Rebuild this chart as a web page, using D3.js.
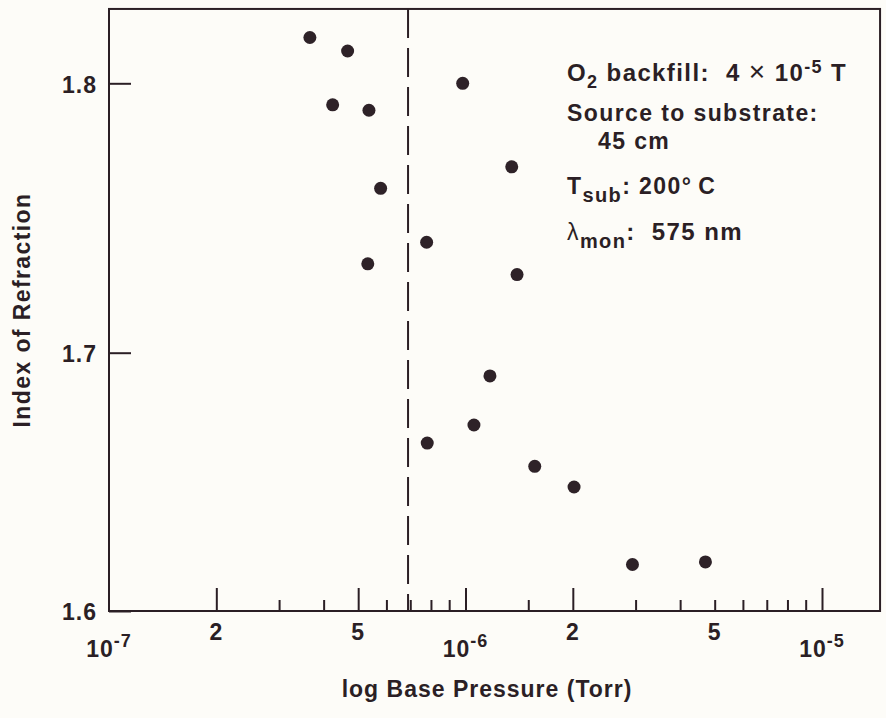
<!DOCTYPE html>
<html>
<head>
<meta charset="utf-8">
<script src="https://cdn.jsdelivr.net/npm/d3@7"></script>
<style>
body { margin: 0; background: #fdfcf8; }
svg { display: block; font-family: "Liberation Sans", Arial, sans-serif; font-weight: bold; }
</style>
</head>
<body>
<div id="chart"></div>
<script>
// data (pressure in Torr, refractive index)
let pressure = [3.66e-7, 4.67e-7, 4.24e-7, 5.36e-7, 9.82e-7, 5.78e-7, 1.348e-6, 7.78e-7, 5.32e-7,
    1.395e-6, 1.171e-6, 1.056e-6, 7.81e-7, 1.564e-6, 2.016e-6, 2.94e-6, 4.71e-6];
let refIndex = [1.817, 1.812, 1.792, 1.790, 1.800, 1.761, 1.769, 1.741, 1.733,
    1.729, 1.691, 1.672, 1.665, 1.656, 1.648, 1.618, 1.619];

let majorTicks = [2e-7, 5e-7, 1e-6, 2e-6, 1e-5];
let minorTicks = [3e-7, 4e-7, 6e-7, 7e-7, 8e-7, 9e-7, 1.5e-6, 3e-6, 4e-6, 5e-6, 6e-6, 7e-6, 8e-6, 9e-6];
let multValues = [2e-7, 5e-7, 2e-6, 5e-6];
let multText = ["2", "5", "2", "5"];
let decadeValues = [1e-7, 1e-6, 1e-5];
let decadeExp = ["-7", "-6", "-5"];
let yTicks = [1.6, 1.7, 1.8];
let cutoff = 6.9e-7;   // dashed vertical line
let xMax = 1.455e-5;   // right end of frame
let yMax = 1.8276;     // top end of frame

let canvasWidth = 886;
let canvasHeight = 718;
let ink = "#2b1f25";
let sp = "\u00a0";

let svg = d3.select("div#chart")
    .append("svg")
    .attr("width", canvasWidth)
    .attr("height", canvasHeight)
    .style("letter-spacing", "1px");

svg.append("rect")
    .attr("width", canvasWidth)
    .attr("height", canvasHeight)
    .attr("fill", "#fdfcf8");

let xScale = d3.scaleLog().domain([1e-7, 1e-5]).range([109, 822]);
// the scanned axis is slightly uneven, so keep the three printed ticks exact
let yScale = d3.scaleLinear().domain(yTicks).range([611, 352.7, 83.3]);

let x0 = xScale(1e-7), x1 = xScale(xMax);
let y0 = yScale(1.6), y1 = yScale(yMax);

// x ticks (pointing up into the plot)
svg.append("g")
    .attr("transform", "translate(0," + y0 + ")")
    .call(d3.axisBottom(xScale).tickValues(majorTicks).tickSize(-23).tickFormat(""))
    .call(g => g.select(".domain").remove());
svg.append("g")
    .attr("transform", "translate(0," + y0 + ")")
    .call(d3.axisBottom(xScale).tickValues(minorTicks).tickSize(-11).tickFormat(""))
    .call(g => g.select(".domain").remove());

// y ticks
svg.append("g")
    .attr("transform", "translate(" + x0 + ",0)")
    .call(d3.axisLeft(yScale).tickValues(yTicks).tickSize(-22).tickPadding(12)
        .tickFormat(d3.format(".1f")))
    .call(g => g.select(".domain").remove())
    .call(g => g.selectAll("text")
        .attr("font-size", 23)
        .attr("font-family", null)
        .attr("fill", ink)
        .attr("dy", "0.38em"));

svg.selectAll(".tick line")
    .attr("stroke", ink)
    .attr("stroke-width", 2);

// frame
svg.append("rect")
    .attr("x", x0)
    .attr("y", y1)
    .attr("width", x1 - x0)
    .attr("height", y0 - y1)
    .attr("fill", "none")
    .attr("stroke", ink)
    .attr("stroke-width", 2);

// x tick labels
svg.selectAll(".mult")
    .data(multValues)
    .join("text")
    .attr("x", d => xScale(d))
    .attr("y", 640)
    .attr("text-anchor", "middle")
    .attr("font-size", 23)
    .attr("fill", ink)
    .text((d, i) => multText[i]);

let dec = svg.selectAll(".dec")
    .data(decadeValues)
    .join("text")
    .attr("x", d => xScale(d))
    .attr("y", 657)
    .attr("text-anchor", "middle")
    .attr("font-size", 23)
    .attr("fill", ink);
dec.append("tspan").text("10");
dec.append("tspan")
    .attr("dy", -10)
    .attr("font-size", 18)
    .text((d, i) => decadeExp[i]);

// dashed cutoff line
svg.append("line")
    .attr("x1", xScale(cutoff))
    .attr("x2", xScale(cutoff))
    .attr("y1", y1)
    .attr("y2", y0)
    .attr("stroke", ink)
    .attr("stroke-width", 2)
    .attr("stroke-dasharray", "29,10");

// points
svg.selectAll("circle")
    .data(pressure)
    .join("circle")
    .attr("cx", d => xScale(d))
    .attr("cy", (d, i) => yScale(refIndex[i]))
    .attr("r", 6.5)
    .attr("fill", "#2e2228");

// axis titles
svg.append("text")
    .attr("x", 487)
    .attr("y", 697)
    .attr("text-anchor", "middle")
    .attr("font-size", 23)
    .attr("fill", ink)
    .text("log Base Pressure (Torr)");

svg.append("text")
    .attr("transform", "translate(30,310) rotate(-90)")
    .attr("text-anchor", "middle")
    .attr("font-size", 23)
    .attr("fill", ink)
    .style("letter-spacing", "1.4px")
    .text("Index of Refraction");

// annotation block
let note = svg.append("g")
    .attr("font-size", 23)
    .attr("fill", ink)
    .style("letter-spacing", "1.4px");

let l1 = note.append("text").attr("x", 567).attr("y", 81).attr("font-size", 24);
l1.append("tspan").text("O");
l1.append("tspan").attr("dy", 7).attr("font-size", 18).text("2");
l1.append("tspan").attr("dy", -7).text(sp + "backfill:" + sp + sp + "4" + sp);
l1.append("tspan").attr("font-weight", "normal").attr("font-size", 28).text("×");
l1.append("tspan").text(sp + "10");
l1.append("tspan").attr("dy", -8).attr("font-size", 18).text("-5");
l1.append("tspan").attr("dy", 8).text(sp + "T");

note.append("text").attr("x", 567).attr("y", 121).text("Source to substrate:");
note.append("text").attr("x", 598).attr("y", 149).text("45 cm");

let l4 = note.append("text").attr("x", 567).attr("y", 194);
l4.append("tspan").text("T");
l4.append("tspan").attr("dy", 8).attr("font-size", 20).text("sub");
l4.append("tspan").attr("dy", -8).text(":" + sp + "200°\u2009C");

let l5 = note.append("text").attr("x", 567).attr("y", 240);
l5.append("tspan").attr("font-weight", "normal").text("λ");
l5.append("tspan").attr("dy", 8).attr("font-size", 20).text("mon");
l5.append("tspan").attr("dy", -8).attr("font-size", 24).text(":" + sp + sp + "575" + sp + "nm");
</script>
</body>
</html>
